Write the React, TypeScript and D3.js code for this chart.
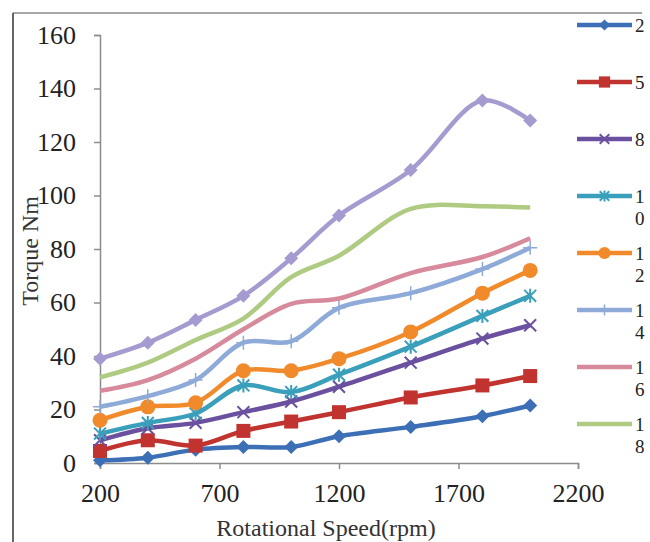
import React, { useRef, useEffect } from 'react';
import * as d3 from 'd3';

// rotational speed (rpm) sampled for every series
const speeds = [200, 400, 600, 800, 1000, 1200, 1500, 1800, 2000];

// torque (N.m) per series
const torque2 = [1, 2, 5, 6, 6, 10, 13.5, 17.5, 21.5];
const torque5 = [4.5, 8.5, 6.5, 12, 15.5, 19, 24.5, 29, 32.5];
const torque8 = [8.5, 13, 15, 19, 23, 28.5, 37.5, 46.5, 51.5];
const torque10 = [11, 15, 18.5, 29, 26.5, 33, 43.5, 55, 62.5];
const torque12 = [16, 21, 22.5, 34.5, 34.5, 39, 49, 63.5, 72];
const torque14 = [21, 25, 31, 45, 45.5, 58, 63.5, 72.5, 80.5];
const torque16 = [27, 31, 39, 50, 59.5, 61.5, 71, 77, 84];
const torque18 = [32, 37.5, 46, 54, 69.5, 77.5, 95, 96, 95.5];
const torque20 = [39, 45, 53.5, 62.5, 76.5, 92.5, 109.5, 135.5, 128];

const seriesLabels = ['2', '5', '8', '10', '12', '14', '16', '18', '20'];
const xTicks = [200, 700, 1200, 1700, 2200];
const yTicks = [0, 20, 40, 60, 80, 100, 120, 140, 160];

type Marker = 'diamond' | 'square' | 'x' | 'star' | 'circle' | 'plus' | 'none';

const series: { label: string; values: number[]; color: string; marker: Marker; legend: boolean }[] = [
    { label: seriesLabels[0], values: torque2, color: '#3c6fb6', marker: 'diamond', legend: true },
    { label: seriesLabels[1], values: torque5, color: '#c0332f', marker: 'square', legend: true },
    { label: seriesLabels[2], values: torque8, color: '#6a509e', marker: 'x', legend: true },
    { label: seriesLabels[3], values: torque10, color: '#3a9fba', marker: 'star', legend: true },
    { label: seriesLabels[4], values: torque12, color: '#f08a2a', marker: 'circle', legend: true },
    { label: seriesLabels[5], values: torque14, color: '#8eaad8', marker: 'plus', legend: true },
    { label: seriesLabels[6], values: torque16, color: '#d78a9c', marker: 'none', legend: true },
    { label: seriesLabels[7], values: torque18, color: '#afcb81', marker: 'none', legend: true },
    { label: seriesLabels[8], values: torque20, color: '#a69bd0', marker: 'diamond', legend: false },
];

const FONT = "'Liberation Serif', 'Times New Roman', 'DejaVu Serif', serif";

function drawMarker(g: any, type: Marker, cx: number, cy: number, color: string, s: number) {
    if (type === 'diamond') {
        g.append('path')
            .attr('d', `M${cx},${cy - s}L${cx + s},${cy}L${cx},${cy + s}L${cx - s},${cy}Z`)
            .attr('fill', color);
    } else if (type === 'square') {
        g.append('rect')
            .attr('x', cx - s).attr('y', cy - s)
            .attr('width', 2 * s).attr('height', 2 * s)
            .attr('fill', color);
    } else if (type === 'circle') {
        g.append('circle').attr('cx', cx).attr('cy', cy).attr('r', s).attr('fill', color);
    } else if (type === 'x' || type === 'star') {
        const d = s * 0.85;
        let p = `M${cx - d},${cy - d}L${cx + d},${cy + d}M${cx - d},${cy + d}L${cx + d},${cy - d}`;
        if (type === 'star') p += `M${cx},${cy - s}L${cx},${cy + s}`;
        g.append('path').attr('d', p).attr('stroke', color).attr('stroke-width', 2).attr('fill', 'none');
    } else if (type === 'plus') {
        g.append('path')
            .attr('d', `M${cx - s},${cy}L${cx + s},${cy}M${cx},${cy - s}L${cx},${cy + s}`)
            .attr('stroke', color).attr('stroke-width', 1.5).attr('fill', 'none');
    }
}

const markerSize: Record<Marker, number> = {
    diamond: 7, square: 7, x: 7, star: 7, circle: 7.5, plus: 7, none: 0,
};

const TorqueChart: React.FC = () => {
    const svgRef = useRef<SVGSVGElement | null>(null);

    useEffect(() => {
        const svg = d3.select(svgRef.current);
        svg.selectAll('*').remove();

        const x = d3.scaleLinear().domain([200, 2200]).range([100, 578]);
        const y = d3.scaleLinear().domain([0, 160]).range([463, 35]);

        // chart border (cropped on the right and bottom)
        svg.append('path')
            .attr('d', 'M13,13L642,13')
            .attr('fill', 'none')
            .attr('stroke', '#8a8a8a')
            .attr('stroke-width', 1.5);
        svg.append('line')
            .attr('x1', 13).attr('x2', 13).attr('y1', 13).attr('y2', 542)
            .attr('stroke', '#333').attr('stroke-width', 1.5);

        const styleAxis = (g: any) => {
            g.attr('font-family', FONT).attr('font-size', 26);
            g.select('.domain').attr('stroke', '#8c8c8c').attr('stroke-width', 1.5);
            g.selectAll('.tick line').attr('stroke', '#8c8c8c').attr('stroke-width', 1.5);
            g.selectAll('.tick text').attr('fill', '#222');
        };

        svg.append('g')
            .attr('transform', 'translate(0,463)')
            .call(d3.axisBottom(x).tickValues(xTicks).tickFormat(d3.format('d')).tickSize(6).tickPadding(15))
            .call(styleAxis);

        svg.append('g')
            .attr('transform', 'translate(100,0)')
            .call(d3.axisLeft(y).tickValues(yTicks).tickSize(6).tickPadding(18))
            .call(styleAxis);

        const line = d3
            .line<number>()
            .x((_, i) => x(speeds[i]))
            .y(d => y(d))
            .curve(d3.curveCatmullRom.alpha(0.5));

        const plot = svg.append('g');
        series.forEach(s => {
            plot.append('path')
                .attr('d', line(s.values) as string)
                .attr('fill', 'none')
                .attr('stroke', s.color)
                .attr('stroke-width', 4.5)
                .attr('stroke-linejoin', 'round');
            const mg = plot.append('g');
            s.values.forEach((v, i) => drawMarker(mg, s.marker, x(speeds[i]), y(v), s.color, markerSize[s.marker]));
        });

        // legend, labels wrap one digit per line
        const legend = svg.append('g').attr('font-family', FONT).attr('font-size', 19);
        series.filter(s => s.legend).forEach((s, i) => {
            const ly = 25 + i * 57;
            legend.append('line')
                .attr('x1', 577).attr('x2', 632).attr('y1', ly).attr('y2', ly)
                .attr('stroke', s.color).attr('stroke-width', 4.5);
            drawMarker(legend, s.marker, 604.5, ly, s.color, markerSize[s.marker] * 0.8);
            s.label.split('').forEach((c, k) => {
                legend.append('text')
                    .attr('x', 635).attr('y', ly + 7 + k * 22)
                    .attr('fill', '#222')
                    .text(c);
            });
        });

        svg.append('text')
            .attr('x', 326).attr('y', 536)
            .attr('text-anchor', 'middle')
            .attr('fill', '#333')
            .attr('font-family', FONT)
            .attr('font-size', 24)
            .text('Rotational Speed(rpm)');

        svg.append('text')
            .attr('transform', 'translate(38,251) rotate(-90)')
            .attr('text-anchor', 'middle')
            .attr('fill', '#333')
            .attr('font-family', FONT)
            .attr('font-size', 24)
            .text('Torque Nm');
    }, []);

    return (
        <svg
            ref={svgRef}
            width="650"
            height="542"
            style={{ position: 'absolute', left: 0, top: 0, background: '#fff' }}
        />
    );
};

export default function App() {
    return <TorqueChart />;
}
